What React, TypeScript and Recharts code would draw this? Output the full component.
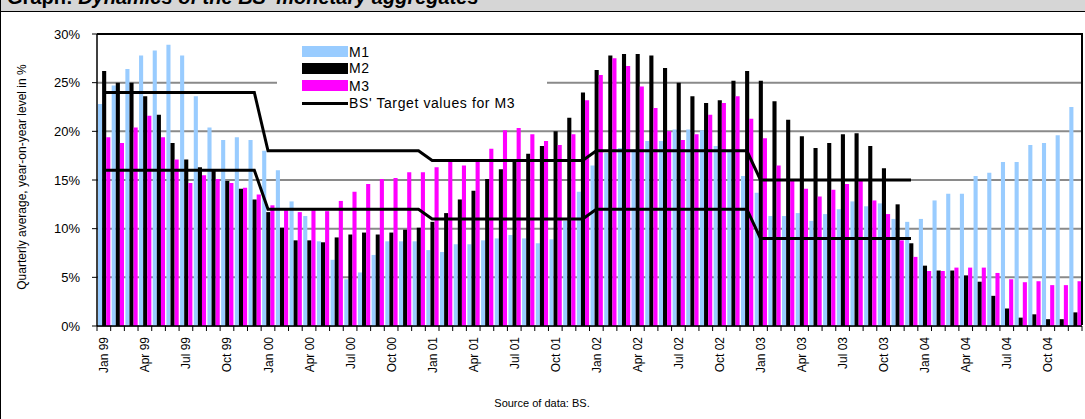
import React from 'react';
import { ComposedChart, Bar, Line, XAxis, YAxis, CartesianGrid, Legend } from 'recharts';

// Monthly year-on-year growth (quarterly average, %), Jan 1999 - Dec 2004
const monthNames = ['Jan', 'Feb', 'Mar', 'Apr', 'May', 'Jun', 'Jul', 'Aug', 'Sep', 'Oct', 'Nov', 'Dec'];
const years = ['99', '00', '01', '02', '03', '04'];

const m1 = [
  22.8, 24.7, 26.4, 27.8, 28.3, 28.9, 27.8, 23.6, 20.4, 19.1, 19.4, 19.1,
  18.0, 16.0, 12.8, 11.3, 8.7, 6.8, 4.8, 5.5, 7.3, 8.7, 8.7, 8.7,
  7.8, 7.6, 8.4, 8.4, 8.8, 9.0, 9.35, 9.0, 8.5, 8.9, 10.8, 13.8,
  16.5, 17.8, 18.3, 18.1, 19.0, 19.0, 20.2, 20.2, 20.1, 18.5, 18.0, 15.4,
  13.7, 11.3, 11.3, 11.6, 10.8, 11.5, 12.0, 12.8, 12.3, 12.6, 11.0, 10.7,
  11.0, 12.9, 13.6, 13.6, 15.4, 15.75, 16.85, 16.85, 18.6, 18.8, 19.6, 22.5,
];

const m2 = [
  26.2, 25.0, 25.0, 23.6, 21.7, 18.8, 17.1, 16.3, 16.0, 14.9, 14.1, 13.0,
  11.7, 10.1, 8.8, 8.8, 8.6, 9.1, 9.4, 9.6, 9.4, 9.6, 9.9, 10.1,
  10.7, 11.6, 13.0, 13.9, 15.1, 16.1, 17.0, 17.7, 18.5, 20.0, 21.4, 24.0,
  26.3, 27.8, 27.95, 27.95, 27.8, 26.5, 25.0, 23.6, 22.9, 23.2, 25.2, 26.2,
  25.2, 23.1, 21.2, 19.5, 18.3, 18.8, 19.7, 19.8, 18.5, 16.2, 12.5, 8.5,
  6.2, 5.7, 5.7, 5.2, 4.55, 3.1, 1.8, 0.86, 1.2, 0.7, 0.7, 1.4,
];

const m3 = [
  19.4, 18.8, 20.4, 21.6, 19.4, 17.1, 14.7, 15.5, 15.1, 14.7, 14.2, 13.5,
  12.4, 11.9, 11.7, 11.9, 11.8, 12.85, 13.8, 14.6, 15.1, 15.2, 15.8, 15.8,
  16.3, 16.9, 16.5, 16.9, 18.2, 20.1, 20.8, 19.7, 19.0, 18.6, 19.7, 23.2,
  25.8, 27.5, 26.7, 24.6, 22.4, 20.0, 19.1, 19.7, 21.7, 22.9, 23.6, 21.3,
  19.3, 16.5, 14.9, 14.1, 13.3, 14.0, 14.6, 14.9, 12.9, 11.5, 8.8, 7.1,
  5.65, 5.65, 6.0, 6.0, 6.0, 5.45, 4.8, 4.5, 4.6, 4.2, 4.2, 4.6,
];

// BS' target corridor for M3, one value per year (none for 2004)
const targetUpperByYear = [24, 18, 17, 18, 15, null];
const targetLowerByYear = [16, 12, 11, 12, 9, null];

const yTicks = [0, 5, 10, 15, 20, 25, 30];

const months = years.flatMap((y) => monthNames.map((m) => `${m} ${y}`));

const data = months.map((month, i) => ({
  month,
  m1: m1[i],
  m2: m2[i],
  m3: m3[i],
  upper: targetUpperByYear[Math.floor(i / 12)],
  lower: targetLowerByYear[Math.floor(i / 12)],
}));

const FONT = 'Arial, "Liberation Sans", Helvetica, sans-serif';
const COLOR_M1 = '#99ccff';
const COLOR_M2 = '#000000';
const COLOR_M3 = '#ff00ff';

const PLOT_LEFT = 97;
const PLOT_RIGHT = 1082;
const PLOT_TOP = 34;
const PLOT_BOTTOM = 326;
const BAND = (PLOT_RIGHT - PLOT_LEFT) / months.length;

const MonthTick = (props: any) => {
  const { x, payload } = props;
  const idx = payload.index;
  const half = BAND / 2;
  return (
    <g>
      <line x1={x - half} y1={PLOT_BOTTOM} x2={x - half} y2={PLOT_BOTTOM + 5} stroke="#000" />
      {idx === months.length - 1 && (
        <line x1={x + half} y1={PLOT_BOTTOM} x2={x + half} y2={PLOT_BOTTOM + 5} stroke="#000" />
      )}
      {idx % 3 === 0 && (
        <text
          transform={`translate(${x + 4.5},${PLOT_BOTTOM + 11}) rotate(-90)`}
          textAnchor="end"
          fontSize={12}
          fontFamily={FONT}
          fill="#000"
        >
          {payload.value}
        </text>
      )}
    </g>
  );
};

const legendItems = [
  { label: 'M1', kind: 'box', color: COLOR_M1, cy: 16.5 },
  { label: 'M2', kind: 'box', color: COLOR_M2, cy: 33 },
  { label: 'M3', kind: 'box', color: COLOR_M3, cy: 50.5 },
  { label: "BS' Target values for M3", kind: 'line', color: '#000', cy: 68 },
];

const LegendBox = () => (
  <div style={{ position: 'relative', width: 270, height: 93, background: '#fff', fontFamily: FONT }}>
    {legendItems.map((item) => (
      <React.Fragment key={item.label}>
        <div
          style={{
            position: 'absolute',
            left: 25,
            top: item.kind === 'box' ? item.cy - 5.5 : item.cy - 1.5,
            width: 46,
            height: item.kind === 'box' ? 11 : 3,
            background: item.color,
          }}
        />
        <div
          style={{
            position: 'absolute',
            left: 72,
            top: item.cy - 8,
            height: 16,
            lineHeight: '16px',
            fontSize: 14,
            letterSpacing: 0.6,
            color: '#000',
            whiteSpace: 'nowrap',
          }}
        >
          {item.label}
        </div>
      </React.Fragment>
    ))}
  </div>
);

export default function App() {
  return (
    <div
      style={{
        position: 'fixed',
        left: 0,
        top: 0,
        width: 1085,
        height: 419,
        background: '#fff',
        fontFamily: FONT,
        overflow: 'hidden',
      }}
    >
      <svg width={1085} height={419} style={{ position: 'absolute', left: 0, top: 0 }}>
        <rect x={0} y={0} width={1085} height={11} fill="#d6d6d6" />
        <line x1={0} y1={11.5} x2={1085} y2={11.5} stroke="#000" strokeWidth={1} />
        <line x1={0.5} y1={0} x2={0.5} y2={419} stroke="#000" strokeWidth={1} />
        <text x={7} y={4} fontSize={20} fontWeight="bold" fontFamily={FONT} fill="#000">
          Graph: <tspan fontStyle="italic">Dynamics of the BS' monetary aggregates</tspan>
        </text>
        <text
          transform="translate(26,177) rotate(-90)"
          textAnchor="middle"
          fontSize={12}
          fontFamily={FONT}
          fill="#000"
        >
          Quarterly average, year-on-year level in %
        </text>
        <text x={542} y={407} textAnchor="middle" fontSize={11} fontFamily={FONT} fill="#000">
          Source of data: BS.
        </text>
      </svg>

      <div style={{ position: 'absolute', left: 0, top: 0 }}>
        <ComposedChart
          width={1085}
          height={419}
          data={data}
          margin={{ top: PLOT_TOP, right: 1085 - PLOT_RIGHT, bottom: 0, left: 0 }}
          barCategoryGap={0}
          barGap={-1}
          barSize={5.5}
        >
          <CartesianGrid vertical={false} stroke="#8a8a8a" strokeWidth={2} />
          <XAxis
            dataKey="month"
            height={419 - PLOT_BOTTOM}
            interval={0}
            tickLine={false}
            tickSize={0}
            tickMargin={0}
            axisLine={{ stroke: '#000', strokeWidth: 1.5 }}
            tick={<MonthTick />}
          />
          <YAxis
            width={PLOT_LEFT}
            domain={[0, 30]}
            ticks={yTicks}
            tickFormatter={(v: number) => `${v}%`}
            axisLine={{ stroke: '#000', strokeWidth: 1.5 }}
            tickLine={{ stroke: '#000' }}
            tickSize={5}
            tickMargin={12}
            tick={{ fontSize: 13, fill: '#000', fontFamily: FONT }}
          />
          <Bar dataKey="m1" name="M1" fill={COLOR_M1} isAnimationActive={false} />
          <Bar dataKey="m2" name="M2" fill={COLOR_M2} isAnimationActive={false} />
          <Bar dataKey="m3" name="M3" fill={COLOR_M3} isAnimationActive={false} />
          <Line
            type="linear"
            dataKey="upper"
            stroke="#000"
            strokeWidth={3}
            dot={false}
            activeDot={false}
            isAnimationActive={false}
          />
          <Line
            type="linear"
            dataKey="lower"
            stroke="#000"
            strokeWidth={3}
            dot={false}
            activeDot={false}
            isAnimationActive={false}
          />
          <Legend
            layout="vertical"
            verticalAlign="middle"
            align="center"
            content={() => <LegendBox />}
            wrapperStyle={{ left: 277, top: 35, width: 270, height: 93 }}
          />
        </ComposedChart>
      </div>

      <div
        style={{
          position: 'absolute',
          left: PLOT_LEFT,
          top: PLOT_TOP - 1,
          width: PLOT_RIGHT - PLOT_LEFT + 1,
          height: PLOT_BOTTOM - PLOT_TOP,
          borderTop: '2px solid #000',
          borderRight: '2px solid #000',
          boxSizing: 'border-box',
          pointerEvents: 'none',
        }}
      />
    </div>
  );
}
